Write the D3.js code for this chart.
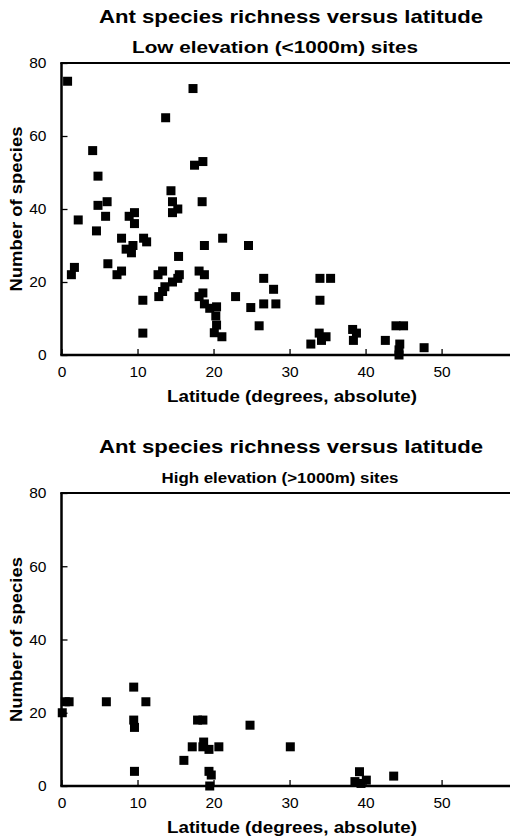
<!DOCTYPE html>
<html>
<head>
<meta charset="utf-8">
<script src="https://cdn.jsdelivr.net/npm/d3@7"></script>
<style>
  html, body { margin: 0; padding: 0; background: #fff; }
  svg { display: block; }
  text { font-family: "Liberation Sans", Arial, Helvetica, sans-serif; fill: #000; }
</style>
</head>
<body>
<svg id="chart" width="510" height="839"></svg>
<script>
// Low elevation (<1000m) sites: absolute latitude and number of ant species
const lowLatitude = [
  0.8, 17.3, 13.7, 4.1, 18.6, 17.5, 4.8, 14.4, 14.6, 18.5,
  6.0, 4.8, 15.3, 14.6, 9.6, 8.9, 5.8, 9.6, 2.2, 4.6,
  18.8, 7.9, 10.8, 11.2, 9.4, 8.5, 9.2, 15.4, 6.1, 1.7,
  1.3, 7.9, 7.3, 13.3, 12.7, 15.5, 15.3, 14.6, 13.6, 13.3,
  12.8, 18.1, 18.8, 18.6, 18.1, 18.8, 10.7, 10.7, 21.2, 24.6,
  26.6, 27.9, 22.9, 19.5, 20.4, 20.3, 20.4, 20.1, 21.1, 24.9,
  26.6, 28.2, 26.0, 34.0, 35.4, 34.0, 33.9, 34.8, 32.8, 34.2,
  38.3, 38.8, 38.4, 42.6, 44.0, 45.0, 44.5, 44.4, 44.4, 47.7
];
const lowSpecies = [
  75, 73, 65, 56, 53, 52, 49, 45, 42, 42,
  42, 41, 40, 39, 39, 38, 38, 36, 37, 34,
  30, 32, 32, 31, 30, 29, 28, 27, 25, 24,
  22, 23, 22, 23, 22, 22, 21, 20, 18.7, 17.4,
  16, 23, 22, 17, 16, 14, 15, 6, 32, 30,
  21, 18, 16, 12.8, 13.2, 10.7, 8.2, 6.1, 5, 13,
  14, 14, 8, 21, 21, 15, 6, 5, 3, 4,
  7, 6, 4, 4, 8, 8, 3, 1.4, 0, 2
];

// High elevation (>1000m) sites
const highLatitude = [
  0.1, 0.5, 1.0, 5.9, 9.5, 11.1, 9.5, 9.6, 9.6, 17.9,
  18.6, 16.1, 17.2, 18.7, 18.6, 19.4, 20.7, 19.4, 19.7, 19.5,
  24.8, 30.1, 39.2, 38.6, 40.1, 39.4, 43.7
];
const highSpecies = [
  20, 23, 23, 23, 27, 23, 18, 16, 4, 18,
  18, 7, 10.7, 12, 10.7, 10, 10.7, 4, 3, 0,
  16.6, 10.7, 3.9, 1.2, 1.6, 0.7, 2.7
];

const xTicks = [0, 10, 20, 30, 40, 50];
const yTicks = [0, 20, 40, 60, 80];

const chartTitle = "Ant species richness versus latitude";
const panelSubtitles = ["Low elevation (<1000m) sites", "High elevation (>1000m) sites"];
const xLabel = "Latitude (degrees, absolute)";
const yLabel = "Number of species";

const svg = d3.select("#chart");

// bold label stretched to a set width
function boldText(g, x, y, size, width, str, transform) {
  const t = g.append("text")
    .attr("text-anchor", "middle")
    .style("font-size", size + "px").style("font-weight", "bold")
    .attr("textLength", width).attr("lengthAdjust", "spacingAndGlyphs")
    .text(str);
  if (transform) t.attr("transform", transform);
  else t.attr("x", x).attr("y", y);
  return t;
}

function drawPanel(opts) {
  const { top, height, subtitle, subSize, subWidth, subX, lat, species } = opts;
  const left = 61.5, right = 510;

  const x = d3.scaleLinear().domain([0, 59]).range([left, right]);
  const y = d3.scaleLinear().domain([0, 80]).range([top + height, top]);

  const g = svg.append("g");

  // titles
  boldText(g, 291, top - 40, 19, 384, chartTitle);
  boldText(g, subX, top - 10, subSize, subWidth, subtitle);

  // axes with inward ticks
  const yAxis = d3.axisLeft(y).tickValues(yTicks).tickSize(-6).tickPadding(15).tickFormat(d3.format("d"));
  const xAxis = d3.axisBottom(x).tickValues(xTicks).tickSize(-6).tickPadding(11).tickFormat(d3.format("d"));

  const ya = g.append("g").attr("transform", `translate(${left},0)`).call(yAxis);
  const xa = g.append("g").attr("transform", `translate(0,${top + height})`).call(xAxis);
  [ya, xa].forEach(a => {
    a.select(".domain").remove();
    a.selectAll(".tick line").attr("stroke", "#000").attr("stroke-width", 1.3);
    a.selectAll(".tick text")
      .style("font-size", "15.5px")
      .style("font-family", "'Liberation Sans', Arial, sans-serif")
      .attr("fill", "#000");
  });

  // frame: left axis, bottom axis, top rule
  g.append("line").attr("x1", left).attr("x2", left).attr("y1", top).attr("y2", top + height)
    .attr("stroke", "#000").attr("stroke-width", 2.5);
  g.append("line").attr("x1", left - 1.25).attr("x2", right).attr("y1", top + height).attr("y2", top + height)
    .attr("stroke", "#000").attr("stroke-width", 2.5);
  g.append("line").attr("x1", left - 1.25).attr("x2", right).attr("y1", top).attr("y2", top)
    .attr("stroke", "#000").attr("stroke-width", 2.2);

  // axis labels
  boldText(g, 292, top + height + 47, 16.5, 250, xLabel);
  boldText(g, 0, 0, 16.5, 165, yLabel, `translate(22,${top + height / 2}) rotate(-90)`);

  // square markers
  const s = 9;
  g.append("g").selectAll("rect")
    .data(d3.range(lat.length))
    .join("rect")
    .attr("x", i => x(lat[i]) - s / 2)
    .attr("y", i => y(species[i]) - s / 2)
    .attr("width", s).attr("height", s)
    .attr("fill", "#000");
}

drawPanel({ top: 63, height: 292, subtitle: panelSubtitles[0], subSize: 16, subWidth: 286, subX: 275,
            lat: lowLatitude, species: lowSpecies });
drawPanel({ top: 493, height: 293, subtitle: panelSubtitles[1], subSize: 15, subWidth: 237, subX: 280,
            lat: highLatitude, species: highSpecies });
</script>
</body>
</html>
